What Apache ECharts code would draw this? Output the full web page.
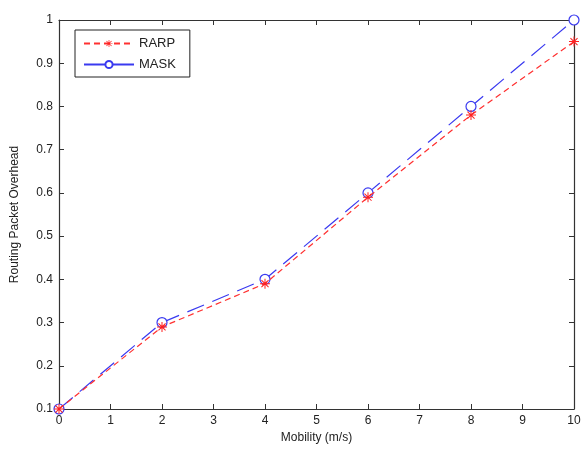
<!DOCTYPE html>
<html><head><meta charset="utf-8">
<script src="https://cdn.jsdelivr.net/npm/echarts@6/dist/echarts.min.js"></script>
<style>html,body{margin:0;padding:0;background:#fff}#c{width:585px;height:449px}</style>
</head><body><div id="c"></div>
<script>
const mobility = [0, 2, 4, 6, 8, 10];
const rarp = [0.1, 0.29, 0.39, 0.59, 0.78, 0.95];
const mask = [0.1, 0.3, 0.4, 0.6, 0.8, 1.0];
const xTicks = [0,1,2,3,4,5,6,7,8,9,10];
const yTicks = [0.1,0.2,0.3,0.4,0.5,0.6,0.7,0.8,0.9,1];

const star = 'path://M-1 -10 L1 -10 L1 10 L-1 10 Z M-10 -1 L10 -1 L10 1 L-10 1 Z M-7.8 -6.4 L-6.4 -7.8 L7.8 6.4 L6.4 7.8 Z M6.4 -7.8 L7.8 -6.4 L-6.4 7.8 L-7.8 6.4 Z';
const font = 'Liberation Sans, Arial, sans-serif';
const axisCol = '#333';
const chart = echarts.init(document.getElementById('c'));
const baseX = {
  type: 'value', min: 0, max: 10, interval: 1,
  axisLine: {show: true, onZero: false, lineStyle: {color: axisCol, width: 1.2}},
  axisTick: {show: true, inside: true, length: 5, lineStyle: {color: axisCol}},
  splitLine: {show: false}
};
const baseY = {
  type: 'value', min: 0.1, max: 1, interval: 0.1,
  axisLine: {show: true, onZero: false, lineStyle: {color: axisCol, width: 1.2}},
  axisTick: {show: true, inside: true, length: 5, lineStyle: {color: axisCol}},
  splitLine: {show: false}
};
chart.setOption({
  animation: false,
  backgroundColor: '#fff',
  grid: {left: 59, right: 11, top: 20, bottom: 40, containLabel: false},
  legend: {
    orient: 'vertical', left: 75, top: 30,
    padding: [7, 14, 6, 8], itemGap: 8,
    itemWidth: 50, itemHeight: 9,
    borderColor: '#222', borderWidth: 1, backgroundColor: '#fff',
    textStyle: {fontFamily: font, fontSize: 13, color: '#222'},
    data: [
      {name: 'RARP'},
      {name: 'MASK', lineStyle: {type: 'solid'}}
    ]
  },
  xAxis: [
    Object.assign({}, baseX, {
      position: 'bottom',
      name: 'Mobility (m/s)', nameLocation: 'middle', nameGap: 23,
      nameTextStyle: {fontFamily: font, fontSize: 12, color: '#222'},
      axisLabel: {fontFamily: font, fontSize: 12, color: '#222', margin: 6}
    }),
    Object.assign({}, baseX, {position: 'top', axisLabel: {show: false}})
  ],
  yAxis: [
    Object.assign({}, baseY, {
      position: 'left',
      name: 'Routing Packet Overhead', nameLocation: 'middle', nameGap: 38,
      nameTextStyle: {fontFamily: font, fontSize: 12, color: '#222'},
      axisLabel: {fontFamily: font, fontSize: 12, color: '#222', margin: 6,
        formatter: v => String(Math.round(v * 10) / 10)}
    }),
    Object.assign({}, baseY, {position: 'right', axisLabel: {show: false}})
  ],
  series: [
    {
      name: 'RARP', type: 'line', xAxisIndex: 0, yAxisIndex: 0,
      data: mobility.map((x, i) => [x, rarp[i]]),
      symbol: star, symbolSize: 10,
      itemStyle: {color: '#ff2020'},
      lineStyle: {color: '#ff3030', width: 1.2, type: [6, 4]},
      z: 3
    },
    {
      name: 'MASK', type: 'line', xAxisIndex: 0, yAxisIndex: 0,
      data: mobility.map((x, i) => [x, mask[i]]),
      symbol: 'circle', symbolSize: 10, showSymbol: true,
      itemStyle: {color: '#fff', borderColor: '#3a3af0', borderWidth: 1.2},
      lineStyle: {color: '#3a3af0', width: 1.2, type: [18, 9]},
      z: 2
    }
  ]
});
</script></body></html>
